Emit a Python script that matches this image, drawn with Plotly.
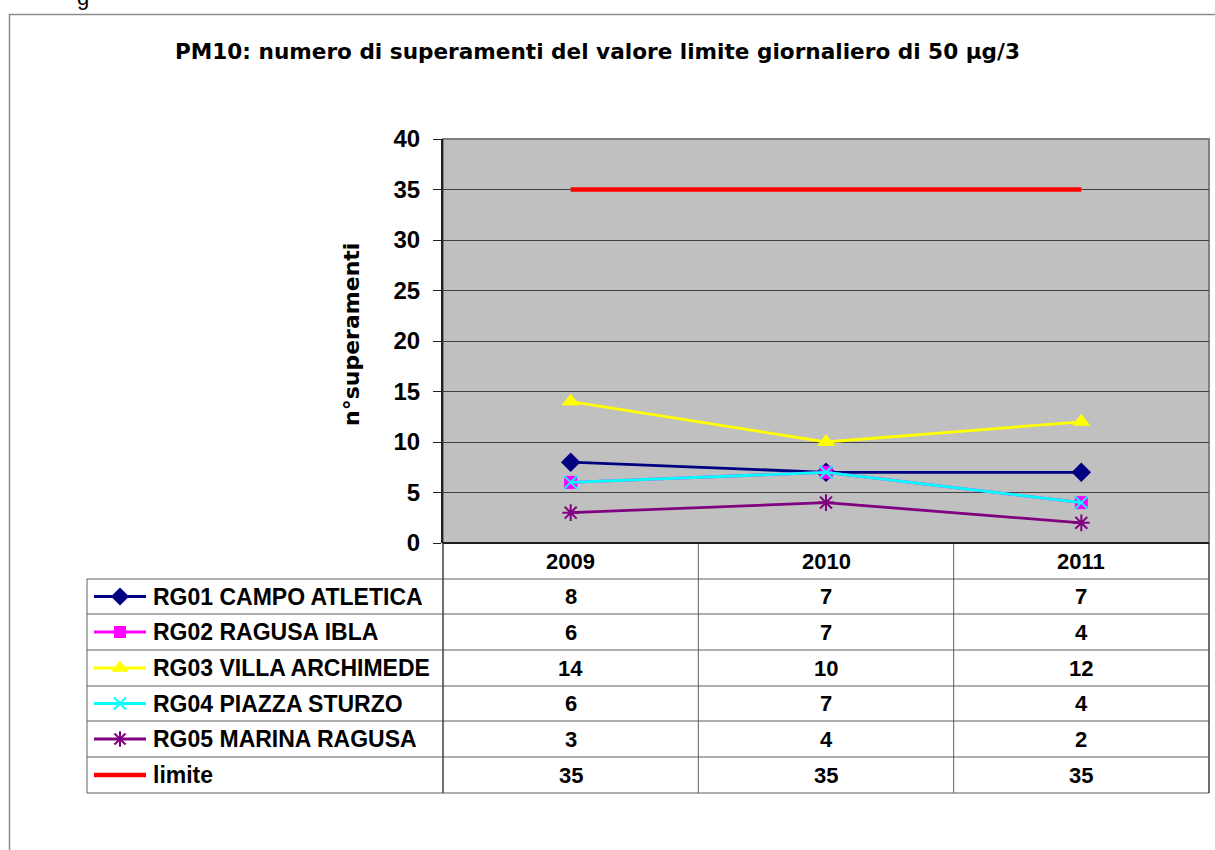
import plotly.graph_objects as go

# ---------------- data ----------------
years = ["2009", "2010", "2011"]
series_names = ["RG01 CAMPO ATLETICA", "RG02 RAGUSA IBLA", "RG03 VILLA ARCHIMEDE",
                "RG04 PIAZZA STURZO", "RG05 MARINA RAGUSA", "limite"]
rg01 = [8, 7, 7]
rg02 = [6, 7, 4]
rg03 = [14, 10, 12]
rg04 = [6, 7, 4]
rg05 = [3, 4, 2]
limite = [35, 35, 35]
y_ticks = [0, 5, 10, 15, 20, 25, 30, 35, 40]
title_text = "PM10: numero di superamenti del valore limite giornaliero di 50 µg/3"
y_title = "n°superamenti"

values = [rg01, rg02, rg03, rg04, rg05, limite]

# ---------------- styles ----------------
W, H = 1215, 850
FONT = "Liberation Sans, Arial, sans-serif"
WIDE = "DejaVu Sans, Liberation Sans, sans-serif"
styles = [
    dict(color="#000080", symbol="diamond", size=15, width=2.8),
    dict(color="#FF00FF", symbol="square", size=13, width=2.8),
    dict(color="#FFFF00", symbol="triangle-up", size=16, width=2.8),
    dict(color="#00FFFF", symbol="x-thin-open", size=13, width=2.8),
    dict(color="#800080", symbol="asterisk-open", size=14, width=2.8),
    dict(color="#FF0000", symbol=None, size=0, width=4.5),
]

PX0, PX1, PY0, PY1 = 443, 1209, 139, 543
row_edges = [543, 579, 614, 650, 686, 721, 757, 793]
row_centers = [(row_edges[i] + row_edges[i + 1]) / 2 for i in range(1, 7)]
TBL_LEFT = 87
col_w = (PX1 - PX0) / len(years)


def px(x):
    return x / W


def py(y):
    return 1 - y / H


def cat_x(i):
    return px(PX0 + (i + 0.5) * col_w)


fig = go.Figure()

for name, vals, st in zip(series_names, values, styles):
    if st["symbol"]:
        mk = dict(symbol=st["symbol"], size=st["size"], color=st["color"],
                  line=dict(color=st["color"], width=2 if "open" in st["symbol"] else 0))
        mode = "lines+markers"
    else:
        mk = None
        mode = "lines"
    fig.add_trace(go.Scatter(x=years, y=vals, mode=mode, name=name,
                             line=dict(color=st["color"], width=st["width"]),
                             marker=mk, cliponaxis=False, showlegend=False,
                             xaxis="x", yaxis="y"))

# legend keys inside table (pixel overlay axes)
for i, (name, st) in enumerate(zip(series_names, styles)):
    yc = row_centers[i]
    fig.add_trace(go.Scatter(x=[94, 146], y=[yc, yc], mode="lines",
                             line=dict(color=st["color"], width=st["width"]),
                             showlegend=False, xaxis="x2", yaxis="y2", hoverinfo="skip"))
    if st["symbol"]:
        fig.add_trace(go.Scatter(x=[120], y=[yc], mode="markers",
                                 marker=dict(symbol=st["symbol"], size=st["size"] - 1, color=st["color"],
                                             line=dict(color=st["color"], width=2 if "open" in st["symbol"] else 0)),
                                 showlegend=False, xaxis="x2", yaxis="y2", hoverinfo="skip"))

shapes = []
shapes.append(dict(type="rect", xref="paper", yref="paper", x0=px(PX0), x1=px(PX1), y0=py(PY0), y1=py(PY1),
                   fillcolor="#C0C0C0", line=dict(width=0), layer="below"))
shapes.append(dict(type="rect", xref="paper", yref="paper", x0=px(PX0), x1=px(PX1), y0=py(PY0), y1=py(PY1),
                   fillcolor="rgba(0,0,0,0)", line=dict(color="#808080", width=2), layer="below"))
shapes.append(dict(type="rect", xref="paper", yref="paper", x0=px(9.5), x1=px(1230), y0=py(14.5), y1=py(870),
                   line=dict(color="#8C8C8C", width=1.5), fillcolor="rgba(0,0,0,0)"))
for ye in row_edges[1:]:
    shapes.append(dict(type="line", xref="paper", yref="paper", x0=px(TBL_LEFT), x1=px(PX1), y0=py(ye), y1=py(ye),
                       line=dict(color="#606060", width=1)))
shapes.append(dict(type="line", xref="paper", yref="paper", x0=px(TBL_LEFT), x1=px(TBL_LEFT),
                   y0=py(row_edges[1]), y1=py(row_edges[-1]), line=dict(color="#606060", width=1)))
for k in range(len(years) + 1):
    xe = PX0 + k * col_w
    shapes.append(dict(type="line", xref="paper", yref="paper", x0=px(xe), x1=px(xe), y0=py(PY1), y1=py(row_edges[-1]),
                       line=dict(color="#404040" if k in (0, 3) else "#606060", width=1.5 if k in (0, 3) else 1)))
shapes.append(dict(type="line", xref="paper", yref="paper", x0=px(PX0), x1=px(PX1), y0=py(PY1), y1=py(PY1),
                   line=dict(color="#202020", width=2)))

ann = []
ann.append(dict(text="<b>" + title_text + "</b>", xref="paper", yref="paper", x=px(597), y=py(52),
                showarrow=False, font=dict(family=WIDE, size=21.6, color="black"),
                xanchor="center", yanchor="middle"))
ann.append(dict(text="<b>" + y_title + "</b>", xref="paper", yref="paper", x=px(352), y=py(335), textangle=-90,
                showarrow=False, font=dict(family=WIDE, size=22, color="black"),
                xanchor="center", yanchor="middle"))
ann.append(dict(text="g", xref="paper", yref="paper", x=px(83), y=py(-3),
                showarrow=False, font=dict(family=FONT, size=22, color="black"),
                xanchor="center", yanchor="middle"))
for i, yr in enumerate(years):
    ann.append(dict(text="<b>" + yr + "</b>", xref="paper", yref="paper", x=cat_x(i), y=py(561),
                    showarrow=False, font=dict(family=FONT, size=22, color="black"),
                    xanchor="center", yanchor="middle"))
for r, (name, vals) in enumerate(zip(series_names, values)):
    yc = row_centers[r]
    ann.append(dict(text="<b>" + name + "</b>", xref="paper", yref="paper", x=px(151), y=py(yc),
                    showarrow=False, font=dict(family=FONT, size=23, color="black"),
                    xanchor="left", yanchor="middle"))
    for i, v in enumerate(vals):
        ann.append(dict(text="<b>" + str(v) + "</b>", xref="paper", yref="paper", x=cat_x(i), y=py(yc),
                        showarrow=False, font=dict(family=FONT, size=22, color="black"),
                        xanchor="center", yanchor="middle"))

fig.update_layout(
    template="none",
    width=W, height=H, autosize=False,
    margin=dict(l=0, r=0, t=0, b=0, pad=0),
    paper_bgcolor="white", plot_bgcolor="rgba(0,0,0,0)",
    showlegend=False,
    shapes=shapes, annotations=ann,
    xaxis=dict(type="category", domain=[px(PX0), px(PX1)], range=[-0.5, len(years) - 0.5],
               showticklabels=False, showgrid=False, zeroline=False, ticks="", showline=False,
               anchor="y", fixedrange=True, automargin=False),
    yaxis=dict(domain=[py(PY1), py(PY0)], range=[0, 40], tickvals=y_ticks,
               ticktext=["<b>%d</b>" % t for t in y_ticks],
               tickfont=dict(family=FONT, size=24, color="black"),
               showgrid=True, gridcolor="#404040", gridwidth=1, zeroline=False,
               showline=True, linecolor="#202020", linewidth=2,
               ticks="outside", ticklen=8, tickcolor="#202020", tickwidth=1,
               ticklabelstandoff=8,
               anchor="x", fixedrange=True, automargin=False),
    xaxis2=dict(domain=[0, 1], range=[0, W], visible=False, anchor="y2", fixedrange=True, automargin=False),
    yaxis2=dict(domain=[0, 1], range=[H, 0], visible=False, anchor="x2", fixedrange=True, automargin=False),
)

fig.write_html("out.html", config={"displayModeBar": False},
               post_script="document.body.style.margin='0';")
